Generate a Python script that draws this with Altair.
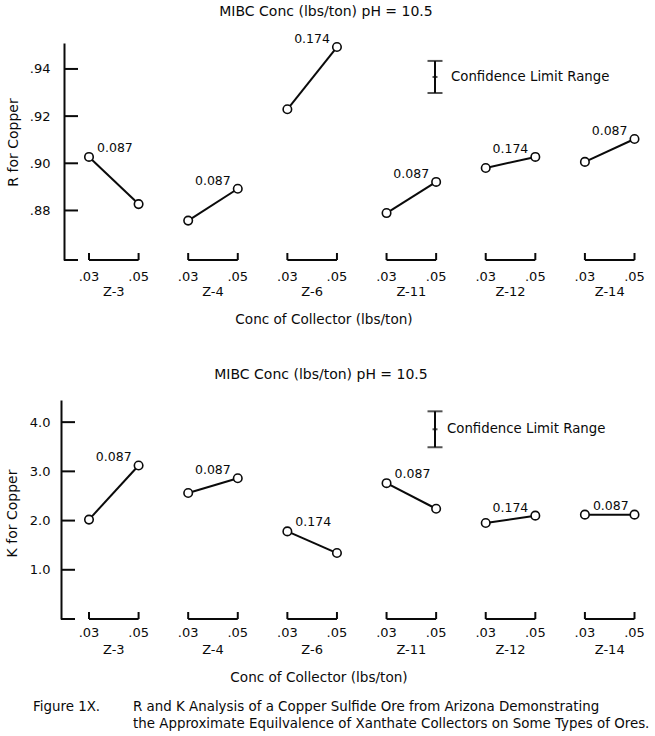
import altair as alt
import pandas as pd

# ---------------- data ----------------
groups = ["Z-3", "Z-4", "Z-6", "Z-11", "Z-12", "Z-14"]
conc_levels = [".03", ".05"]

r_at_03 = [0.9027, 0.8757, 0.9229, 0.8789, 0.8980, 0.9006]
r_at_05 = [0.8827, 0.8892, 0.9493, 0.8921, 0.9027, 0.9103]
k_at_03 = [2.02, 2.56, 1.78, 2.76, 1.95, 2.12]
k_at_05 = [3.12, 2.86, 1.34, 2.24, 2.10, 2.12]
r_mibc = ["0.087", "0.087", "0.174", "0.087", "0.174", "0.087"]
k_mibc = ["0.087", "0.087", "0.174", "0.087", "0.174", "0.087"]

r_ticks = [0.88, 0.90, 0.92, 0.94]
k_ticks = [1.0, 2.0, 3.0, 4.0]
r_domain = [0.859, 0.951]
k_domain = [0.0, 4.45]
r_conf = [0.9298, 0.9434]
k_conf = [3.49, 4.22]

panel_title = "MIBC Conc (lbs/ton) pH = 10.5"
x_title = "Conc of Collector (lbs/ton)"
r_title = "R for Copper"
k_title = "K for Copper"
conf_text = "Confidence Limit Range"
caption_lead = "Figure 1X."
caption_lines = [
    "R and K Analysis of a Copper Sulfide Ore from Arizona Demonstrating",
    "the Approximate Equilvalence of Xanthate Collectors on Some Types of Ores.",
]

FONT = "DejaVu Sans"
INK = "#0a0a0a"

keys = [f"{g} {c}" for g in groups for c in conc_levels]


def point_table(v03, v05, mibc):
    rows = []
    for g, a, b, m in zip(groups, v03, v05, mibc):
        rows.append(dict(group=g, conc=conc_levels[0], key=f"{g} {conc_levels[0]}", value=a, mibc=m))
        rows.append(dict(group=g, conc=conc_levels[1], key=f"{g} {conc_levels[1]}", value=b, mibc=m))
    return pd.DataFrame(rows)


def label_table(pts):
    idx = pts.groupby("group", sort=False)["value"].idxmax()
    return pts.loc[idx.values].reset_index(drop=True)


brackets = pd.DataFrame({
    "group": groups,
    "k03": [f"{g} {conc_levels[0]}" for g in groups],
    "k05": [f"{g} {conc_levels[1]}" for g in groups],
})

xscale = alt.Scale(type="point", domain=keys, range=[25, 570.5], padding=0)


def xenc(field="key"):
    return alt.X(f"{field}:N", scale=xscale, axis=None)


def note(s, x, y, **kw):
    return alt.Chart(pd.DataFrame({"t": [s]})).mark_text(
        font=FONT, color=INK, **kw
    ).encode(x=alt.value(x), y=alt.value(y), text="t:N")


def panel(pts, ticks, domain, yrange, conf, axis, foot_y, axis_x,
          conc_y, group_y, title_y, title_x, xt_y, xt_x, conf_x, conf_tx):
    scale = alt.Scale(domain=domain, range=yrange, nice=False, zero=False)

    def yenc(field="value"):
        return alt.Y(f"{field}:Q", scale=scale, axis=axis)

    tick_df = pd.DataFrame({"value": ticks})
    tick_rules = alt.Chart(tick_df).mark_rule(color=INK, strokeWidth=2).encode(
        y=yenc(), x=alt.value(axis_x), x2=alt.value(axis_x + 14))
    foot = alt.Chart(pd.DataFrame({"v": [0]})).mark_rule(color=INK, strokeWidth=2).encode(
        x=alt.value(axis_x), x2=alt.value(axis_x + 14), y=alt.value(foot_y))

    br_h = alt.Chart(brackets).mark_rule(color=INK, strokeWidth=2).encode(
        x=xenc("k03"), x2=alt.X2("k05:N"), y=alt.value(foot_y))
    br_v = alt.Chart(pts).mark_rule(color=INK, strokeWidth=2).encode(
        x=xenc(), y=alt.value(foot_y - 7), y2=alt.value(foot_y))
    conc_lab = alt.Chart(pts).mark_text(font=FONT, fontSize=13, color=INK).encode(
        x=xenc(), y=alt.value(conc_y), text="conc:N")
    grp_lab = alt.Chart(brackets).mark_text(font=FONT, fontSize=13, color=INK, dx=24.8).encode(
        x=xenc("k03"), y=alt.value(group_y), text="group:N")

    lines = alt.Chart(pts).mark_line(color=INK, strokeWidth=2).encode(
        x=xenc(), y=yenc(), detail="group:N")
    dots = alt.Chart(pts).mark_point(
        shape="circle", filled=True, fill="white", stroke=INK, strokeWidth=1.6,
        size=72, opacity=1).encode(x=xenc(), y=yenc())

    labs = label_table(pts)
    lab_left = alt.Chart(labs).transform_filter(
        alt.datum.conc == conc_levels[0]).mark_text(
        font=FONT, fontSize=12.5, color=INK, align="left", dx=8, dy=-9).encode(
        x=xenc(), y=yenc(), text="mibc:N")
    lab_right = alt.Chart(labs).transform_filter(
        alt.datum.conc == conc_levels[1]).mark_text(
        font=FONT, fontSize=12.5, color=INK, align="right", dx=-7, dy=-8).encode(
        x=xenc(), y=yenc(), text="mibc:N")

    conf_df = pd.DataFrame({"value": [conf[0]], "value2": [conf[1]], "t": [conf_text]})
    conf_rule = alt.Chart(conf_df).mark_rule(color=INK, strokeWidth=2).encode(
        x=alt.value(conf_x), y=yenc(), y2=alt.Y2("value2:Q"))
    caps = alt.Chart(pd.DataFrame({"value": conf})).mark_tick(
        orient="horizontal", color=INK, size=15, thickness=2).encode(
        x=alt.value(conf_x), y=yenc())
    mid = alt.Chart(conf_df).transform_calculate(
        mid="(datum.value + datum.value2) / 2").mark_tick(
        orient="horizontal", color=INK, size=5, thickness=2).encode(
        x=alt.value(conf_x), y=yenc("mid"))
    conf_lab = alt.Chart(conf_df).transform_calculate(
        mid="(datum.value + datum.value2) / 2").mark_text(
        font=FONT, fontSize=13.3, color=INK, align="left", baseline="middle").encode(
        x=alt.value(conf_tx), y=yenc("mid"), text="t:N")

    ttl = note(panel_title, title_x, title_y, fontSize=14, baseline="middle")
    xt = note(x_title, xt_x, xt_y, fontSize=13.6, baseline="middle")

    return alt.layer(tick_rules, foot, br_h, br_v, conc_lab, grp_lab, lines, dots,
                     lab_left, lab_right, conf_rule, caps, mid, conf_lab, ttl, xt)


r_axis = alt.Axis(
    orient="left", values=r_ticks, ticks=False, grid=False,
    labelExpr="replace(format(datum.value, '.2f'), '0.', '.')",
    labelPadding=14, labelFont=FONT, labelFontSize=13, labelColor=INK,
    domainColor=INK, domainWidth=2,
    title=r_title, titleFont=FONT, titleFontSize=14, titleFontWeight="normal",
    titleColor=INK, titleAngle=-90, titleX=-51, titleY=142,
    titleAlign="center", titleBaseline="middle")

k_axis = alt.Axis(
    orient="left", values=k_ticks, ticks=False, grid=False, format=".1f",
    labelPadding=11, labelFont=FONT, labelFontSize=13, labelColor=INK,
    domainColor=INK, domainWidth=2, offset=3,
    title=k_title, titleFont=FONT, titleFontSize=14, titleFontWeight="normal",
    titleColor=INK, titleAngle=-90, titleX=-49, titleY=513,
    titleAlign="center", titleBaseline="middle")

r_pts = point_table(r_at_03, r_at_05, r_mibc)
k_pts = point_table(k_at_03, k_at_05, k_mibc)

top = panel(r_pts, r_ticks, r_domain, [260, 43], r_conf, r_axis,
            foot_y=260, axis_x=0, conc_y=277, group_y=292,
            title_y=12, title_x=262, xt_y=320, xt_x=260, conf_x=371, conf_tx=387)
bottom = panel(k_pts, k_ticks, k_domain, [619, 400], k_conf, k_axis,
               foot_y=619, axis_x=-3, conc_y=633, group_y=650,
               title_y=375, title_x=257, xt_y=678, xt_x=255, conf_x=371, conf_tx=383)

caption = alt.layer(
    note(caption_lead, -31, 707, fontSize=13.4, align="left", baseline="middle"),
    note(caption_lines[0], 69, 707, fontSize=13.4, align="left", baseline="middle"),
    note(caption_lines[1], 69, 724, fontSize=13.4, align="left", baseline="middle"),
)

chart = alt.layer(top, bottom, caption).resolve_scale(y="independent").properties(
    width=591, height=736,
    padding={"left": 64, "top": 0, "right": 0, "bottom": 0},
    autosize=alt.AutoSizeParams(type="none"),
    background="white",
).configure_view(stroke=None)

chart.save("out.html", embed_options={"renderer": "svg", "actions": False})
